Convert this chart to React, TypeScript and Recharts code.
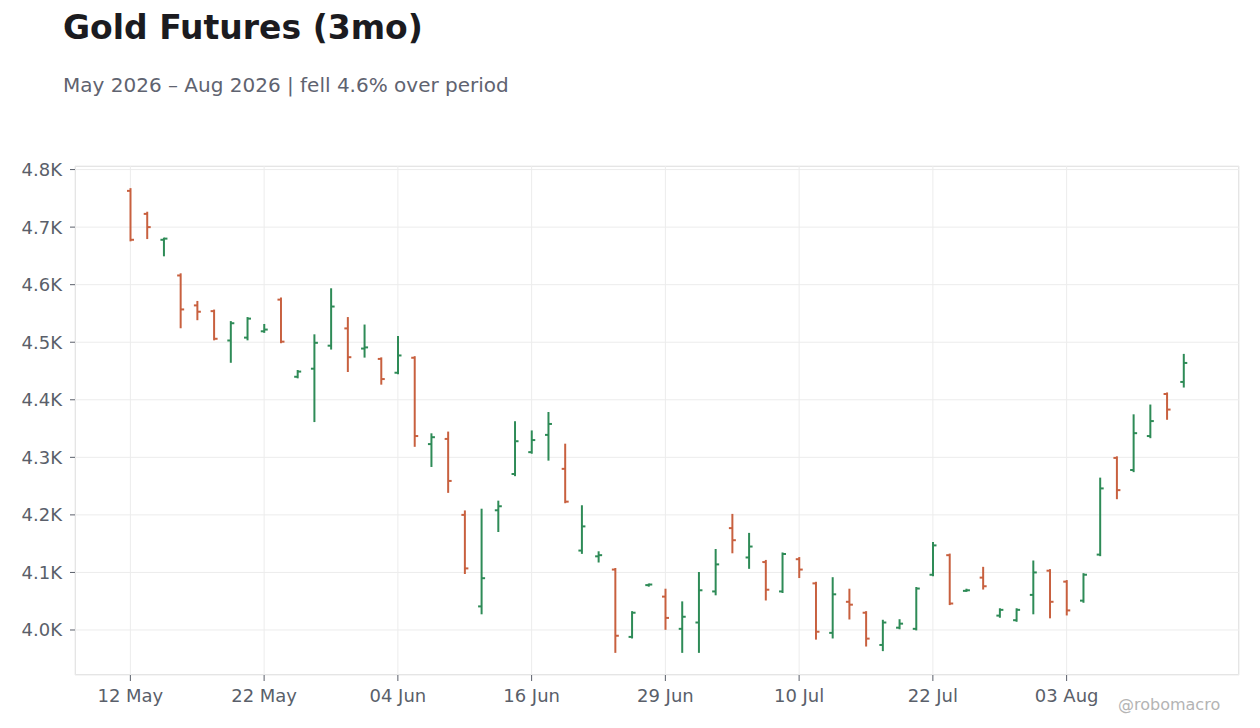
import React from 'react';
import { ComposedChart, Bar, XAxis, YAxis, CartesianGrid } from 'recharts';

// trading days, 12 May 2026 - 12 Aug 2026
const dates = [
  '12 May', '13 May', '14 May', '15 May', '18 May', '19 May', '20 May', '21 May', '22 May',
  '26 May', '27 May', '28 May', '29 May', '01 Jun', '02 Jun', '03 Jun', '04 Jun', '05 Jun',
  '08 Jun', '09 Jun', '10 Jun', '11 Jun', '12 Jun', '15 Jun', '16 Jun', '17 Jun', '18 Jun',
  '22 Jun', '23 Jun', '24 Jun', '25 Jun', '26 Jun', '29 Jun', '30 Jun', '01 Jul', '02 Jul',
  '06 Jul', '07 Jul', '08 Jul', '09 Jul', '10 Jul', '13 Jul', '14 Jul', '15 Jul', '16 Jul',
  '17 Jul', '20 Jul', '21 Jul', '22 Jul', '23 Jul', '24 Jul', '27 Jul', '28 Jul', '29 Jul',
  '30 Jul', '31 Jul', '03 Aug', '04 Aug', '05 Aug', '06 Aug', '07 Aug', '10 Aug', '11 Aug',
  '12 Aug',
];

const opens = [
  4763, 4723, 4678, 4616, 4564, 4554, 4503, 4508, 4519, 4574, 4440, 4454, 4494, 4524, 4489, 4471,
  4447, 4473, 4323, 4332, 4200, 4041, 4208, 4271, 4309, 4339, 4280, 4138, 4128, 4105, 3988, 4078,
  4058, 4002, 4013, 4067, 4177, 4126, 4118, 4067, 4123, 4081, 3995, 4049, 4030, 3974, 4004, 4002,
  4096, 4130, 4068, 4091, 4025, 4017, 4061, 4103, 4084, 4051, 4131, 4299, 4278, 4337, 4410, 4431,
];
const highs = [
  4766, 4725, 4680, 4618, 4570, 4555, 4535, 4542, 4530, 4576, 4450, 4512, 4592, 4542, 4529, 4472,
  4509, 4474, 4340, 4343, 4206, 4209, 4223, 4361, 4345, 4377, 4322, 4215, 4135, 4106, 4031, 4079,
  4070, 4048, 4099, 4139, 4200, 4167, 4120, 4133, 4125, 4082, 4090, 4070, 4031, 4016, 4017, 4073,
  4151, 4131, 4070, 4108, 4036, 4036, 4119, 4104, 4085, 4097, 4263, 4300, 4373, 4390, 4411, 4478,
];
const lows = [
  4677, 4681, 4651, 4526, 4540, 4505, 4466, 4505, 4518, 4500, 4439, 4363, 4489, 4450, 4475, 4428,
  4446, 4320, 4285, 4240, 4099, 4029, 4172, 4269, 4308, 4296, 4222, 4134, 4119, 3962, 3987, 4077,
  4002, 3962, 3962, 4062, 4135, 4108, 4053, 4066, 4092, 3985, 3987, 4020, 3973, 3965, 4003, 4001,
  4095, 4045, 4068, 4072, 4023, 4016, 4029, 4022, 4027, 4049, 4130, 4229, 4276, 4335, 4367, 4423,
];
const closes = [
  4678, 4700, 4680, 4557, 4553, 4506, 4533, 4541, 4522, 4501, 4449, 4499, 4562, 4474, 4491, 4436,
  4477, 4337, 4335, 4259, 4107, 4090, 4215, 4328, 4330, 4358, 4223, 4180, 4130, 3990, 4030, 4079,
  4021, 4023, 4069, 4114, 4156, 4145, 4070, 4132, 4105, 3997, 4062, 4044, 3985, 4013, 4011, 4072,
  4147, 4046, 4069, 4076, 4035, 4035, 4100, 4049, 4034, 4096, 4246, 4243, 4342, 4363, 4383, 4464,
];

const yTicks = [4000, 4100, 4200, 4300, 4400, 4500, 4600, 4700, 4800];

const UP = '#2e8b57';
const DOWN = '#c8603f';

const data = dates.map((date, i) => ({
  date,
  open: opens[i],
  high: highs[i],
  low: lows[i],
  close: closes[i],
}));

const hi = Math.max(...highs);
const lo = Math.min(...lows);
const pad = (hi - lo) * 0.05;

function OhlcShape(props: any) {
  const { x, y, width, height, payload } = props;
  const top = Math.min(y, y + height);
  const bottom = Math.max(y, y + height);
  const span = payload.high - payload.low || 1;
  const toY = (v: number) => top + ((payload.high - v) / span) * (bottom - top);
  const cx = x + width / 2 + 0.5;
  const color = payload.close >= payload.open ? UP : DOWN;
  const oy = toY(payload.open);
  const cy = toY(payload.close);
  return (
    <g stroke={color} strokeWidth={2} fill="none">
      <line x1={cx} x2={cx} y1={top - 1} y2={bottom + 1} />
      <line x1={cx - 3.5} x2={cx} y1={oy} y2={oy} />
      <line x1={cx} x2={cx + 3.5} y1={cy} y2={cy} />
    </g>
  );
}

const tickStyle = { fontSize: 18, fill: '#5a5f6a' };

export default function App() {
  return (
    <div style={{ position: 'relative', width: 1260, height: 728, background: '#fff', fontFamily: '"DejaVu Sans", sans-serif' }}>
      <style>{'body{margin:0}'}</style>
      <div style={{ position: 'absolute', left: 63, top: 8, fontSize: 33, fontWeight: 700, color: '#1b1b20' }}>
        Gold Futures (3mo)
      </div>
      <div style={{ position: 'absolute', left: 63, top: 73, fontSize: 20, color: '#5f6370' }}>
        May 2026 – Aug 2026 | fell 4.6% over period
      </div>
      <div
        style={{
          position: 'absolute',
          left: 75,
          top: 166,
          width: 1164,
          height: 509,
          border: '1px solid #dedede',
          boxSizing: 'border-box',
        }}
      />
      <div style={{ position: 'absolute', left: 0, top: 0 }}>
        <ComposedChart width={1260} height={728} data={data} margin={{ top: 166, right: 21, bottom: 22, left: 0 }}>
          <CartesianGrid stroke="#ececec" />
          <XAxis
            dataKey="date"
            interval={7}
            padding={{ left: 47, right: 47 }}
            axisLine={false}
            tickLine={{ stroke: '#5a5f6a' }}
            tickSize={6}
            tickMargin={8}
            height={31}
            tick={tickStyle}
          />
          <YAxis
            type="number"
            domain={[lo - pad, hi + pad]}
            ticks={yTicks}
            tickFormatter={(v: number) => `${(v / 1000).toFixed(1)}K`}
            axisLine={false}
            tickLine={{ stroke: '#5a5f6a' }}
            tickSize={5}
            tickMargin={8}
            width={75}
            tick={tickStyle}
          />
          <Bar dataKey={(d: any) => [d.low, d.high]} barSize={8} shape={<OhlcShape />} isAnimationActive={false} />
        </ComposedChart>
      </div>
      <div style={{ position: 'absolute', left: 1118, top: 695, fontSize: 16, color: '#b4b4b4' }}>@robomacro</div>
    </div>
  );
}
